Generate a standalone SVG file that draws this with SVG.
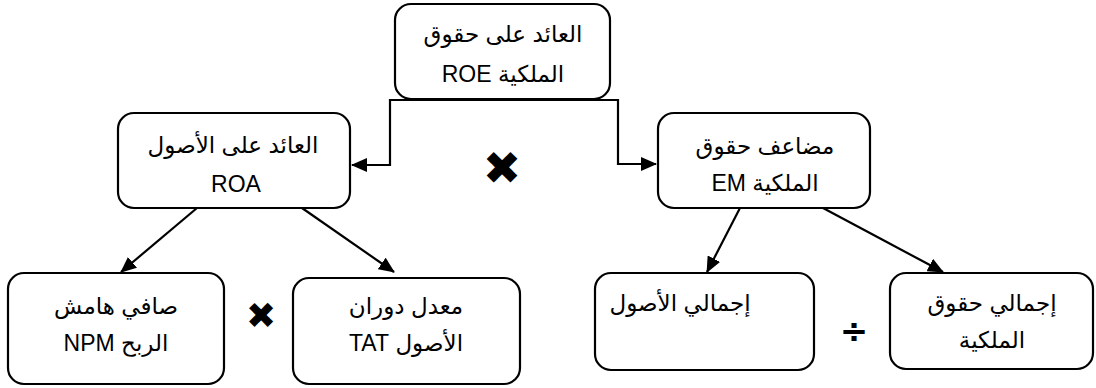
<svg xmlns="http://www.w3.org/2000/svg" width="1096" height="388" viewBox="0 0 1096 388">
<style>
.box{fill:#fff;stroke:#000;stroke-width:2.2}
.t{font-family:"Liberation Sans","DejaVu Sans",sans-serif;font-size:23px;fill:#000;text-anchor:middle}
.l{font-size:23px}
.c{fill:none;stroke:#000;stroke-width:2.2}
.op{font-family:"DejaVu Sans",sans-serif;font-weight:bold;fill:#000;text-anchor:middle}
</style>
<defs>
<marker id="ah" markerWidth="16" markerHeight="14" refX="15" refY="7" orient="auto" markerUnits="userSpaceOnUse">
<path d="M0,0 L16,7 L0,14 Z" fill="#000"/>
</marker>
</defs>
<g id="connectors">
<path class="c" d="M390,100 L618,100"/>
<path class="c" d="M390,99 L390,165 L352,165" marker-end="url(#ah)"/>
<path class="c" d="M618,99 L618,164 L656,164" marker-end="url(#ah)"/>
<path class="c" d="M197,208 L121,272" marker-end="url(#ah)"/>
<path class="c" d="M302,208 L394,272" marker-end="url(#ah)"/>
<path class="c" d="M740,208 L707,272" marker-end="url(#ah)"/>
<path class="c" d="M823,208 L943,272" marker-end="url(#ah)"/>
</g>
<g id="roe">
<rect class="box" x="395" y="4" width="215" height="95" rx="16"/>
<text class="t" x="503" y="42" direction="rtl">العائد على حقوق</text>
<text class="t" x="503" y="82" direction="rtl">الملكية <tspan class="l">ROE</tspan></text>
</g>
<g id="roa">
<rect class="box" x="118" y="113" width="232" height="95" rx="16"/>
<text class="t" x="233" y="153" direction="rtl">العائد على الأصول</text>
<text class="t l" x="236" y="192">ROA</text>
</g>
<g id="em">
<rect class="box" x="658" y="113" width="212" height="95" rx="16"/>
<text class="t" x="765" y="154" direction="rtl">مضاعف حقوق</text>
<text class="t" x="765" y="191" direction="rtl">الملكية <tspan class="l">EM</tspan></text>
</g>
<g id="npm">
<rect class="box" x="8" y="273" width="216" height="111" rx="16"/>
<text class="t" x="116" y="314" direction="rtl">صافي هامش</text>
<text class="t" x="116" y="351" direction="rtl">الربح <tspan class="l">NPM</tspan></text>
</g>
<g id="tat">
<rect class="box" x="293" y="278" width="227" height="106" rx="16"/>
<text class="t" x="406" y="314" direction="rtl">معدل دوران</text>
<text class="t" x="406" y="351" direction="rtl">الأصول <tspan class="l">TAT</tspan></text>
</g>
<g id="ta">
<rect class="box" x="595" y="273" width="219" height="97" rx="16"/>
<text class="t" x="680" y="311" direction="rtl" font-size="21">إجمالي الأصول</text>
</g>
<g id="te">
<rect class="box" x="890" y="273" width="203" height="96" rx="16"/>
<text class="t" x="992" y="311" direction="rtl">إجمالي حقوق</text>
<text class="t" x="992" y="348" direction="rtl">الملكية</text>
</g>
<g id="operators">
<text class="op" x="502" y="184" font-size="46">✖</text>
<text class="op" x="261" y="328" font-size="36">✖</text>
<text class="op" x="854" y="342" font-size="34">÷</text>
</g>
</svg>
